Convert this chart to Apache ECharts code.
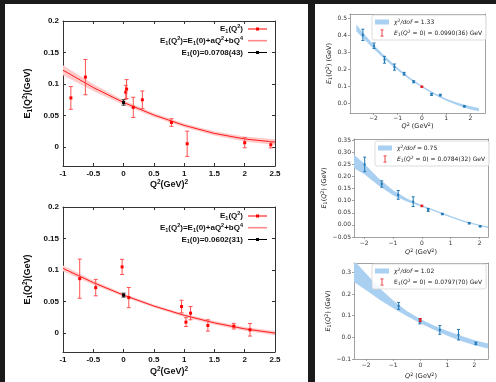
<!DOCTYPE html>
<html><head><meta charset="utf-8">
<script src="https://cdn.jsdelivr.net/npm/echarts@6/dist/echarts.min.js"></script>
<style>html,body{margin:0;padding:0;background:#1a1a1a}#c{width:496px;height:382px}</style>
</head><body><div id="c"></div><script>
// ---------- Panel A (top-left) ----------
const aQ2   = [-0.87, -0.63, 0.036, 0.05, 0.16, 0.31, 0.79, 1.05, 2.0, 2.43];
const aE    = [0.078, 0.111, 0.087, 0.092, 0.063, 0.075, 0.039, 0.0053, 0.0069, 0.0037];
const aErr  = [0.018, 0.028, 0.011, 0.015, 0.016, 0.014, 0.006, 0.020, 0.008, 0.005];
const aE0   = [[0, 0.0708, 0.0043]];
const aFitQ2 = [-1, -0.5, 0, 0.5, 1, 1.5, 2, 2.5];
const aFit   = [0.122, 0.0945, 0.0708, 0.0509, 0.0345, 0.0217, 0.0129, 0.0079];
const aFitHalf = [0.008, 0.0055, 0.0035, 0.003, 0.003, 0.0035, 0.004, 0.0045];
// ---------- Panel B (bottom-left) ----------
const bQ2   = [-0.724, -0.46, -0.024, 0.086, 0.957, 1.03, 1.106, 1.392, 1.82, 2.087];
const bE    = [0.0863, 0.0721, 0.105, 0.0563, 0.0421, 0.0174, 0.0316, 0.0121, 0.011, 0.0053];
const bErr  = [0.031, 0.013, 0.012, 0.016, 0.010, 0.007, 0.0105, 0.009, 0.0045, 0.010];
const bE0   = [[0, 0.0602, 0.0031]];
const bFitQ2 = [-1, -0.5, 0, 0.5, 1, 1.5, 2, 2.5];
const bFit   = [0.1026, 0.0801, 0.0602, 0.0429, 0.0282, 0.0162, 0.0067, 0.0];
const bFitHalf = [0.0045, 0.0035, 0.0025, 0.0025, 0.0025, 0.003, 0.003, 0.0035];
// ---------- Panel C (top-right) ----------
const cQ2   = [-2.43, -1.97, -1.54, -1.13, -0.73, -0.34, 0.4, 0.76, 1.75];
const cE    = [0.403, 0.339, 0.257, 0.214, 0.175, 0.128, 0.054, 0.05, -0.016];
const cErr  = [0.033, 0.016, 0.02, 0.018, 0.008, 0.006, 0.006, 0.005, 0.004];
const cE0   = [[0, 0.099, 0.0036]];
const cBandQ2 = [-2.7, -2.5, -2, -1.5, -1, -0.5, 0, 0.5, 1, 1.5, 2, 2.35];
const cBand   = [0.444, 0.412, 0.335, 0.265, 0.203, 0.147, 0.099, 0.058, 0.023, -0.004, -0.025, -0.035];
const cHalf   = [0.02, 0.017, 0.012, 0.009, 0.007, 0.006, 0.005, 0.005, 0.006, 0.007, 0.009, 0.01];
// ---------- Panel D (middle-right) ----------
const dQ2   = [-1.98, -1.39, -0.82, -0.3, 0.22, 0.71, 1.64, 2.02];
const dE    = [0.25, 0.169, 0.124, 0.096, 0.062, 0.045, 0.007, -0.006];
const dErr  = [0.03, 0.013, 0.018, 0.02, 0.006, 0.003, 0.003, 0.002];
const dE0   = [[0, 0.0784, 0.0032]];
const dBandQ2 = [-2.35, -2, -1.5, -1, -0.5, 0, 0.5, 1, 1.5, 2, 2.3];
const dBand   = [0.262, 0.232, 0.178, 0.133, 0.102, 0.078, 0.056, 0.034, 0.013, -0.002, -0.01];
const dHalf   = [0.028, 0.022, 0.015, 0.01, 0.006, 0.003, 0.003, 0.003, 0.003, 0.003, 0.003];
// ---------- Panel E (bottom-right) ----------
const eQ2   = [-0.8, -0.02, 0.72, 1.41, 2.05];
const eE    = [0.145, 0.073, 0.034, 0.012, -0.028];
const eErr  = [0.016, 0.011, 0.02, 0.024, 0.006];
const eE0   = [[0, 0.0797, 0.007]];
const eBandQ2 = [-2.45, -2, -1.5, -1, -0.5, 0, 0.5, 1, 1.5, 2, 2.5];
const eBand   = [0.305, 0.255, 0.2, 0.152, 0.11, 0.075, 0.045, 0.018, -0.005, -0.025, -0.04];
const eHalf   = [0.05, 0.038, 0.027, 0.018, 0.012, 0.01, 0.01, 0.011, 0.012, 0.012, 0.012];
// ---------- ticks ----------
const lxTicks = [-1, -0.5, 0, 0.5, 1, 1.5, 2, 2.5];
const lxLabels = ['-1', '-0.5', '0', '0.5', '1', '1.5', '2', '2.5'];
const lyTicks = [0, 0.05, 0.1, 0.15, 0.2];
const lyLabels = ['0', '0.05', '0.1', '0.15', '0.2'];
const rxTicks = [-2, -1, 0, 1, 2];
const rxLabels = ['\u22122', '\u22121', '0', '1', '2'];
const cyTicks = [0, 0.1, 0.2, 0.3, 0.4, 0.5];
const cyLabels = ['0.0', '0.1', '0.2', '0.3', '0.4', '0.5'];
const dyTicks = [-0.05, 0, 0.05, 0.1, 0.15, 0.2, 0.25, 0.3, 0.35];
const dyLabels = ['\u22120.05', '0.00', '0.05', '0.10', '0.15', '0.20', '0.25', '0.30', '0.35'];
const eyTicks = [-0.1, 0, 0.1, 0.2, 0.3];
const eyLabels = ['\u22120.1', '0.0', '0.1', '0.2', '0.3'];
// ---------- texts ----------
const legendText = {
  A_pts: 'E_1(Q^2)', A_fit: 'E_1(Q^2)=E_1(0)+aQ^2+bQ^4', A_e0: 'E_1(0)=0.0708(43)',
  B_pts: 'E_1(Q^2)', B_fit: 'E_1(Q^2)=E_1(0)+aQ^2+bQ^4', B_e0: 'E_1(0)=0.0602(31)',
  C_band: '*\u03c7*^2*/dof* = 1.33', C_e0: '*E*_1(*Q*^2 = 0) = 0.0990(36) GeV',
  D_band: '*\u03c7*^2*/dof* = 0.75', D_e0: '*E*_1(*Q*^2 = 0) = 0.0784(32) GeV',
  E_band: '*\u03c7*^2*/dof* = 1.02', E_e0: 'E_1(*Q*^2 = 0) = 0.0797(70) GeV'
};
const leftXName = 'Q^2(GeV)^2', leftYName = 'E_1(Q^2)(GeV)';
const rightXName = '*Q*^2 (GeV^2)', rightYName = '*E*_1(*Q*^2) (GeV)';

// ---------- helpers ----------
function rt(s, pre) {
  let out = '', buf = '', it = false;
  const flush = () => { if (buf) { out += '{' + pre + (it ? 'i' : 'n') + '|' + buf + '}'; buf = ''; } };
  for (let i = 0; i < s.length; i++) {
    const ch = s[i];
    if (ch === '_' || ch === '^') { flush(); out += '{' + pre + (ch === '_' ? 'b' : 'p') + '|' + s[i + 1] + '}'; i++; }
    else if (ch === '*') { flush(); it = !it; }
    else buf += ch;
  }
  flush();
  return out;
}
function richSet(pre, size, small, lh, family, weight, color) {
  const base = { fontSize: size, fontFamily: family, fontWeight: weight, color: color, lineHeight: lh, verticalAlign: 'middle' };
  const o = {};
  o[pre + 'n'] = Object.assign({}, base);
  o[pre + 'i'] = Object.assign({}, base, { fontStyle: 'italic' });
  o[pre + 'b'] = { fontSize: small, fontFamily: family, fontWeight: weight, color: color, lineHeight: small, verticalAlign: 'bottom' };
  o[pre + 'p'] = { fontSize: small, fontFamily: family, fontWeight: weight, color: color, lineHeight: small, verticalAlign: 'top' };
  return o;
}
const FL = 'Liberation Sans, Arial, Helvetica, sans-serif';
const FR = 'DejaVu Sans, sans-serif';
const RL = richSet('L', 8, 5.5, 11, FL, 'bold', '#111');
const RA = richSet('A', 9, 6.5, 12, FL, 'bold', '#111');
const RR = richSet('R', 6, 4.5, 8, FR, 'normal', '#222');
const RN = richSet('N', 6.5, 4.8, 8, FR, 'normal', '#222');
function fmt(ticks, labels) {
  return function (v) {
    let b = 0;
    for (let i = 1; i < ticks.length; i++) if (Math.abs(ticks[i] - v) < Math.abs(ticks[b] - v)) b = i;
    return labels[b];
  };
}
const zip3 = (xs, ys, es) => xs.map((x, i) => [x, ys[i], es[i]]);

// ---------- axes ----------
const xAxis = [], yAxis = [];
const LBOX = '#333', RBOX = '#8a8a8a';
function leftAxes(gi, nameGapX) {
  const line = { show: true, onZero: false, lineStyle: { color: LBOX, width: 1 } };
  const tick = { show: true, inside: true, length: 3, lineStyle: { color: LBOX, width: 1 } };
  const lab = { fontSize: 8, fontFamily: FL, fontWeight: 'bold', color: '#111', margin: 4 };
  xAxis.push({ gridIndex: gi, type: 'value', min: -1, max: 2.5, position: 'bottom',
    axisLine: line, splitLine: { show: false },
    axisTick: Object.assign({ customValues: lxTicks }, tick),
    axisLabel: Object.assign({ customValues: lxTicks, formatter: fmt(lxTicks, lxLabels) }, lab),
    name: rt(leftXName, 'A'), nameLocation: 'middle', nameGap: nameGapX, nameTextStyle: { rich: RA } });
  xAxis.push({ gridIndex: gi, type: 'value', min: -1, max: 2.5, position: 'top',
    axisLine: line, splitLine: { show: false }, axisLabel: { show: false },
    axisTick: Object.assign({ customValues: lxTicks }, tick) });
  yAxis.push({ gridIndex: gi, type: 'value', min: -0.03, max: 0.2, position: 'left',
    axisLine: line, splitLine: { show: false },
    axisTick: Object.assign({ customValues: lyTicks }, tick),
    axisLabel: Object.assign({ customValues: lyTicks, formatter: fmt(lyTicks, lyLabels) }, lab),
    name: rt(leftYName, 'A'), nameLocation: 'middle', nameRotate: 90, nameGap: 29, nameTextStyle: { rich: RA } });
  yAxis.push({ gridIndex: gi, type: 'value', min: -0.03, max: 0.2, position: 'right',
    axisLine: line, splitLine: { show: false }, axisLabel: { show: false },
    axisTick: Object.assign({ customValues: lyTicks }, tick) });
}
function rightAxes(gi, xr, yr, yt, yl, gapX, gapY, marginX) {
  const line = { show: true, onZero: false, lineStyle: { color: RBOX, width: 0.8 } };
  const tick = { show: true, inside: false, length: 2, lineStyle: { color: RBOX, width: 0.8 } };
  const lab = { fontSize: 6, fontFamily: FR, color: '#333' };
  xAxis.push({ gridIndex: gi, type: 'value', min: xr[0], max: xr[1], position: 'bottom',
    axisLine: line, splitLine: { show: false },
    axisTick: Object.assign({ customValues: rxTicks }, tick),
    axisLabel: Object.assign({ customValues: rxTicks, formatter: fmt(rxTicks, rxLabels), margin: marginX }, lab),
    name: rt(rightXName, 'N'), nameLocation: 'middle', nameGap: gapX, nameTextStyle: { rich: RN } });
  xAxis.push({ gridIndex: gi, type: 'value', min: xr[0], max: xr[1], position: 'top',
    axisLine: line, splitLine: { show: false }, axisLabel: { show: false }, axisTick: { show: false } });
  yAxis.push({ gridIndex: gi, type: 'value', min: yr[0], max: yr[1], position: 'left',
    axisLine: line, splitLine: { show: false },
    axisTick: Object.assign({ customValues: yt }, tick),
    axisLabel: Object.assign({ customValues: yt, formatter: fmt(yt, yl), margin: 3 }, lab),
    name: rt(rightYName, 'N'), nameLocation: 'middle', nameRotate: 90, nameGap: gapY, nameTextStyle: { rich: RN } });
  yAxis.push({ gridIndex: gi, type: 'value', min: yr[0], max: yr[1], position: 'right',
    axisLine: line, splitLine: { show: false }, axisLabel: { show: false }, axisTick: { show: false } });
}
leftAxes(0, 11.5);   // x0,x1 / y0,y1
leftAxes(1, 13.5);   // x2,x3 / y2,y3
rightAxes(2, [-2.96, 2.6], [-0.055, 0.525], cyTicks, cyLabels, 9.5, 11, 2);   // x4,x5 / y4,y5
rightAxes(3, [-2.35, 2.29], [-0.05, 0.355], dyTicks, dyLabels, 11.5, 12, 3); // x6,x7 / y6,y7
rightAxes(4, [-2.45, 2.5], [-0.1, 0.343], eyTicks, eyLabels, 13, 12.3, 3);  // x8,x9 / y8,y9

// ---------- series ----------
const series = [];
function addBand(name, xi, yi, xs, ms, hs, color, z) {
  series.push({ type: 'custom', name: name, xAxisIndex: xi, yAxisIndex: yi, clip: true, z: z, silent: true,
    itemStyle: { color: color }, encode: { x: 0, y: 1 },
    data: zip3(xs, ms, hs),
    renderItem: function (params, api) {
      if (params.dataIndexInside !== 0) return null;
      const n = params.dataInsideLength, up = [], lo = [];
      for (let i = 0; i < n; i++) {
        const x = api.value(0, i), m = api.value(1, i), h = api.value(2, i);
        up.push(api.coord([x, m + h]));
        lo.push(api.coord([x, m - h]));
      }
      return { type: 'polygon', shape: { points: up.concat(lo.reverse()) }, style: { fill: color } };
    } });
}
function addErr(name, xi, yi, data, barColor, markColor, capHalf, mark, lw, z) {
  series.push({ type: 'custom', name: name, xAxisIndex: xi, yAxisIndex: yi, clip: true, z: z, silent: true,
    itemStyle: { color: markColor }, encode: { x: 0, y: 1 }, data: data,
    renderItem: function (params, api) {
      const x = api.value(0), y = api.value(1), e = api.value(2);
      const t = api.coord([x, y + e]), b = api.coord([x, y - e]), c = api.coord([x, y]);
      const st = { stroke: barColor, lineWidth: lw };
      return { type: 'group', children: [
        { type: 'line', shape: { x1: t[0], y1: t[1], x2: b[0], y2: b[1] }, style: st },
        { type: 'line', shape: { x1: t[0] - capHalf, y1: t[1], x2: t[0] + capHalf, y2: t[1] }, style: st },
        { type: 'line', shape: { x1: b[0] - capHalf, y1: b[1], x2: b[0] + capHalf, y2: b[1] }, style: st },
        { type: 'rect', shape: { x: c[0] - mark / 2, y: c[1] - mark / 2, width: mark, height: mark }, style: { fill: markColor } }
      ] };
    } });
}
function addFit(name, xi, yi, xs, ys) {
  series.push({ type: 'line', name: name, xAxisIndex: xi, yAxisIndex: yi, z: 3, silent: true, symbol: 'none',
    lineStyle: { color: '#ff1a1a', width: 1 }, itemStyle: { color: '#ff1a1a' },
    data: xs.map((x, i) => [x, ys[i]]) });
}
const PINK = '#ffcaca', BLUE_BAND = '#a9cff1', RED = '#ff0000', MPLBLUE = '#1f77b4', MPLRED = '#e8191a';
// A
addBand('A_band', 0, 0, aFitQ2, aFit, aFitHalf, PINK, 2);
addFit('A_fit', 0, 0, aFitQ2, aFit);
addErr('A_pts', 0, 0, zip3(aQ2, aE, aErr), '#ff5050', RED, 2, 3, 1, 4);
addErr('A_e0', 0, 0, aE0, '#333', '#000', 2, 3, 1, 5);
// B
addBand('B_band', 2, 2, bFitQ2, bFit, bFitHalf, PINK, 2);
addFit('B_fit', 2, 2, bFitQ2, bFit);
addErr('B_pts', 2, 2, zip3(bQ2, bE, bErr), '#ff5050', RED, 2, 3, 1, 4);
addErr('B_e0', 2, 2, bE0, '#333', '#000', 2, 3, 1, 5);
// C
addBand('C_band', 4, 4, cBandQ2, cBand, cHalf, BLUE_BAND, 2);
addErr('C_pts', 4, 4, zip3(cQ2, cE, cErr), MPLBLUE, MPLBLUE, 1.5, 2, 1, 4);
addErr('C_e0', 4, 4, cE0, MPLRED, MPLRED, 1.5, 2, 1, 5);
// D
addBand('D_band', 6, 6, dBandQ2, dBand, dHalf, BLUE_BAND, 2);
addErr('D_pts', 6, 6, zip3(dQ2, dE, dErr), MPLBLUE, MPLBLUE, 1.5, 2, 1, 4);
addErr('D_e0', 6, 6, dE0, MPLRED, MPLRED, 1.5, 2, 1, 5);
// E
addBand('E_band', 8, 8, eBandQ2, eBand, eHalf, BLUE_BAND, 2);
addErr('E_pts', 8, 8, zip3(eQ2, eE, eErr), MPLBLUE, MPLBLUE, 1.5, 2, 1, 4);
addErr('E_e0', 8, 8, eE0, MPLRED, MPLRED, 1.5, 2, 1, 5);

// ---------- legends ----------
const ICON_PT = 'path://M0,2h19v1h-19z M8,1h3v3h-3z';
const ICON_FIT = 'path://M0,0h19v1.6h-19z';
const ICON_BAND = 'path://M0,0h14v5h-14z';
const ICON_ERR = 'path://M0,0h3v0.8h-3z M1.1,0h0.8v7h-0.8z M0,6.2h3v0.8h-3z';
function leftLegend(p, top) {
  return { orient: 'vertical', align: 'right', right: 229, top: top, itemWidth: 19, itemHeight: 6, itemGap: 0.7,
    padding: 0, selectedMode: false, formatter: n => rt(legendText[n], 'L'), textStyle: { rich: RL, lineHeight: 11 },
    data: [
      { name: p + '_pts', icon: ICON_PT, itemStyle: { color: RED, borderWidth: 0 } },
      { name: p + '_fit', icon: ICON_FIT, itemStyle: { color: '#ff8a8a', borderWidth: 0 } },
      { name: p + '_e0', icon: ICON_PT, itemStyle: { color: '#000', borderWidth: 0 } }
    ] };
}
function rightLegend(p, left, top) {
  return { orient: 'vertical', align: 'left', left: left, top: top, itemWidth: 14, itemHeight: 7, itemGap: 3,
    padding: [3, 4, 3, 3], selectedMode: false, backgroundColor: 'rgba(255,255,255,0.85)', borderColor: '#d4d4d4',
    borderWidth: 0.8, borderRadius: 2,
    formatter: n => rt(legendText[n], 'R'), textStyle: { rich: RR, lineHeight: 8 },
    data: [
      { name: p + '_band', icon: ICON_BAND, itemStyle: { color: BLUE_BAND, borderWidth: 0 } },
      { name: p + '_e0', icon: ICON_ERR, itemStyle: { color: MPLRED, borderWidth: 0 } }
    ] };
}

const gridBase = { show: false, outerBoundsMode: 'none', containLabel: false };
const option = {
  animation: false,
  backgroundColor: '#1a1a1a',
  graphic: [
    { type: 'rect', z: -10, silent: true, shape: { x: 5, y: 4, width: 303, height: 378 }, style: { fill: '#ffffff' } },
    { type: 'rect', z: -10, silent: true, shape: { x: 315, y: 4, width: 181, height: 378 }, style: { fill: '#ffffff' } }
  ],
  grid: [
    Object.assign({}, gridBase, { left: 63, top: 21, width: 212, height: 145 }),
    Object.assign({}, gridBase, { left: 63, top: 207, width: 212, height: 145 }),
    Object.assign({}, gridBase, { left: 350, top: 14, width: 135, height: 99 }),
    Object.assign({}, gridBase, { left: 354, top: 139, width: 134, height: 98 }),
    Object.assign({}, gridBase, { left: 354, top: 263, width: 134, height: 96 })
  ],
  xAxis: xAxis,
  yAxis: yAxis,
  legend: [leftLegend('A', 23.5), leftLegend('B', 210.5), rightLegend('C', 372, 15), rightLegend('D', 375, 141), rightLegend('E', 372, 264)],
  series: series
};
const chart = echarts.init(document.getElementById('c'), null, { renderer: 'canvas', width: 496, height: 382 });
chart.setOption(option);
</script></body></html>
